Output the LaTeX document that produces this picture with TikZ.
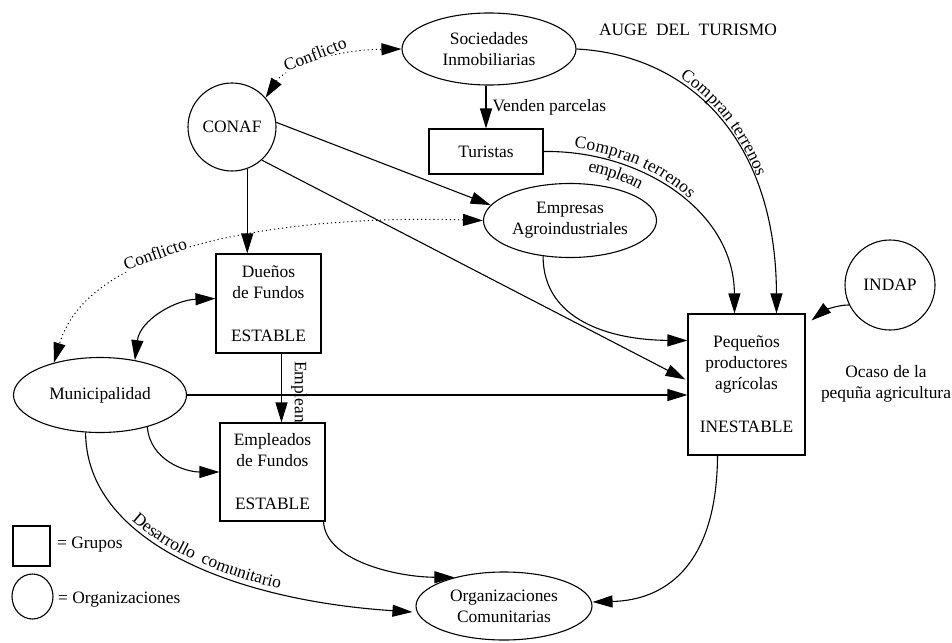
\documentclass[tikz,border=0pt]{standalone}
\usepackage{fontspec}
\setmainfont{Liberation Serif}
\usetikzlibrary{arrows.meta,calc,shapes.geometric,decorations.text}
\newcommand{\lblfont}{\fontsize{17.4}{21}\selectfont}
\begin{document}
\begin{tikzpicture}[x=1pt,y=-1pt,
  every node/.style={font=\lblfont},
  box/.style={draw, line width=1.1pt, inner sep=0pt, align=center},
  oval/.style={draw, ellipse, line width=1.1pt, inner sep=0pt, align=center},
  circ/.style={draw, circle, line width=1.1pt, inner sep=0pt, align=center},
  lbl/.style={inner sep=1pt, align=center},
  flbl/.style={inner sep=1pt, fill=white},
  tip/.tip={Triangle[length=20pt,width=12pt]},
  arr/.style={line width=1.1pt, -tip},
  sdar/.style={line width=1.1pt, tip-tip},
  dar/.style={line width=1pt, dash pattern=on 1.1pt off 3pt, tip-tip},
  curvtext/.style={decorate, decoration={text along path, text={|\lblfont|#1}}},
  ]
\useasboundingbox (0,0) rectangle (952,642);

% nodes
\node[oval, minimum width=174pt, minimum height=72pt] (soc) at (489,49) {Sociedades\\Inmobiliarias};
\node[lbl] (auge) at (688,30) {AUGE\ \ DEL\ \ TURISMO};
\node[circ, minimum size=88pt] (conaf) at (232,127) {CONAF};
\node[box, minimum width=114pt, minimum height=45pt] (tur) at (486,151.5) {Turistas};
\node[oval, minimum width=173pt, minimum height=74pt] (empr) at (570,220.5) {Empresas\\Agroindustriales};
\node[box, minimum width=105pt, minimum height=99pt] (due) at (268.5,303.5) {Dueños\\de Fundos\\[22pt]ESTABLE};
\node[oval, minimum width=173pt, minimum height=75pt] (muni) at (100,395) {Municipalidad};
\node[box, minimum width=105pt, minimum height=98pt] (empl) at (272.5,472) {Empleados\\de Fundos\\[22pt]ESTABLE};
\node[box, minimum width=117pt, minimum height=141pt] (peq) at (746.5,384.5) {Pequeños\\productores\\agrícolas\\[22pt]INESTABLE};
\node[circ, minimum size=90pt] (indap) at (890,285) {INDAP};
\node[lbl] (ocaso) at (886,384) {Ocaso de la\\pequña agricultura};
\node[oval, minimum width=176pt, minimum height=68pt] (org) at (504,606) {Organizaciones\\Comunitarias};

% legend
\node[box, minimum width=37pt, minimum height=40pt] (lgbox) at (31.5,546) {};
\node[lbl, anchor=west] (lgboxt) at (56,545) {= Grupos};
\node[draw, ellipse, line width=1.1pt, inner sep=0pt, minimum width=41pt, minimum height=45pt] (lgcirc) at (32.5,596.5) {};
\node[lbl, anchor=west] (lgcirct) at (57,600) {= Organizaciones};

% helper coordinates
\coordinate (e1) at ($(due.south)+(13,0)$);
\coordinate (p3) at ($(peq.north)+(30,0)$);
\coordinate (p4) at ($(peq.north)+(-12,0)$);
\coordinate (o1) at ($(org.west)+(-3,6)$);

% connectors
\draw[dar] (conaf.41) .. controls (285,68) and (330,50) .. (soc.west);
\node[flbl, rotate=21] (c1) at (315,54) {Conflicto};

\draw[arr] (soc.south -| tur.north) -- (tur.north)
  node[lbl, midway, anchor=west, xshift=5pt] (vp) {Venden parcelas};

\draw[arr] (soc.east) .. controls (690,55) and (776,140) .. (p3);
\path[curvtext={Compran terrenos}, decoration={text align={left indent=107pt}, raise=4pt}]
  (soc.east) .. controls (690,55) and (776,140) .. (p3);

\draw[arr] (tur.east) .. controls (640,150) and (734,210) .. (p4);
\path[curvtext={Compran terrenos}, decoration={text align={left indent=30pt}, raise=5pt}]
  (tur.east) .. controls (640,150) and (734,210) .. (p4);
\path[curvtext={emplean}, decoration={text align={left indent=48pt}, raise=-16pt}]
  (tur.east) .. controls (640,150) and (734,210) .. (p4);

\draw[arr] (empr.233) .. controls (543,320) and (610,340) .. ($(peq.west)+(0,-44)$);
\draw[arr] (conaf.6) -- (empr.169);
\draw[arr] (conaf.-48) -- ($(peq.west)+(-2,-5)$);
\draw[arr] (conaf.-70) -- (conaf.-70 |- due.north);

\draw[dar] (empr.west) .. controls (300,215) and (90,240) .. (muni.145);
\node[flbl, rotate=20] (c2) at (155,254) {Conflicto};

\draw[sdar] (muni.45) .. controls (140,320) and (175,300) .. ($(due.west)+(0,-5)$);

\draw[arr] (e1) -- (e1 |- empl.north);
\node[lbl, rotate=-90] (emplean) at (299,392) {Emplean};

\draw[arr] (muni.east) -- (muni.east -| peq.west);
\draw[arr] (muni.-34) .. controls (150,460) and (185,472) .. (empl.west);

\draw[arr] (muni.-111) .. controls (86,540) and (230,600) .. (o1);
\path[curvtext={Desarrollo {\ }comunitario}, decoration={text align={left indent=104pt}, raise=4pt}]
  (muni.-111) .. controls (86,540) and (230,600) .. (o1);

\draw[arr] ($(empl.south east)+(-2,0)$) .. controls (325,560) and (395,577) .. (org.150);
\draw[arr] ($(peq.south)+(-29,0)$) .. controls (717,560) and (670,600) .. ($(org.east)+(0,-4)$);
\draw[arr] (indap.206) .. controls (835,305) and (822,312) .. ($(peq.north east)+(6,7)$);
\end{tikzpicture}
\end{document}
